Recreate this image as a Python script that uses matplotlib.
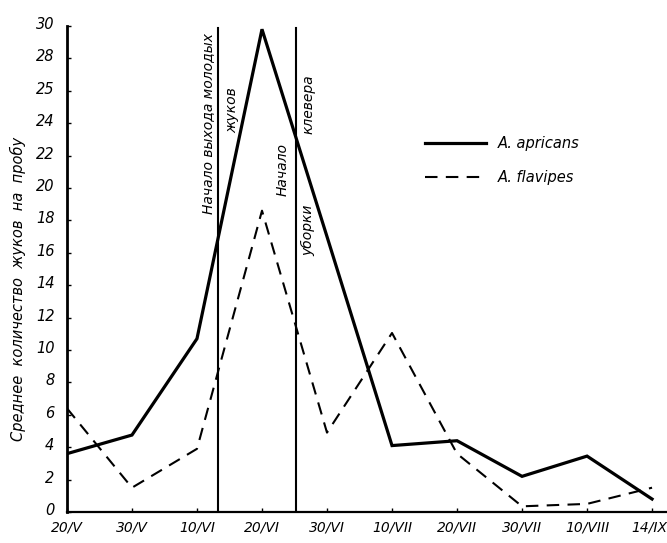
import matplotlib
matplotlib.use("Agg")
import matplotlib.pyplot as plt
from matplotlib.transforms import ScaledTranslation

# даты отбора проб
dates = ["20/V", "30/V", "10/VI", "20/VI", "30/VI", "10/VII", "20/VII",
         "30/VII", "10/VIII", "14/IX"]
apricans = [3.6, 4.75, 10.7, 29.8, 17.0, 4.1, 4.4, 2.2, 3.45, 0.8]
flavipes = [6.4, 1.5, 3.9, 18.6, 4.9, 11.05, 3.6, 0.35, 0.5, 1.5]

y_ticks = [0, 2, 4, 6, 8, 10, 12, 14, 16, 18, 20, 22, 24, 26, 28, 30]
y_labels = ["0", "2", "4", "6", "8", "10", "12", "14", "16", "18", "20",
            "22", "24", "25", "28", "30"]

# события (положение между датами)
events = [2.32, 3.52]

plt.rcParams["font.family"] = ["DejaVu Sans"]
plt.rcParams["font.style"] = "italic"

fig = plt.figure(figsize=(6.67, 5.43), dpi=100)
ax = fig.add_axes([0.1004, 0.0571, 0.8996, 0.895])

x = range(len(dates))
ax.plot(x, apricans, color="black", lw=2.3, solid_joinstyle="miter",
        label="A. apricans")
ax.plot(x, flavipes, color="black", lw=1.5, dashes=(6, 4),
        label="A. flavipes")

for e in events:
    ax.plot([e, e], [0, 29.9], color="black", lw=1.5)

ax.set_xlim(0, 9.23)
ax.set_ylim(0, 30)
ax.set_xticks(list(x))
ax.set_xticklabels(dates, fontsize=10)
ax.set_yticks(y_ticks)
ax.set_yticklabels(y_labels, fontsize=10.5)
ax.tick_params(direction="in", length=3, width=1, pad=9)
ax.tick_params(axis="x", pad=6)
# подписи оси Y чуть выше делений, как в оригинале
for lab in ax.get_yticklabels():
    lab.set_transform(lab.get_transform() +
                      ScaledTranslation(0, 3 / 100, fig.dpi_scale_trans))
# последняя подпись прижата к краю
ax.get_xticklabels()[-1].set_horizontalalignment("right")
ax.get_xticklabels()[-1].set_transform(
    ax.get_xticklabels()[-1].get_transform() +
    ScaledTranslation(15 / 100, 0, fig.dpi_scale_trans))

for s in ["top", "right"]:
    ax.spines[s].set_visible(False)
ax.spines["left"].set_linewidth(2)
ax.spines["bottom"].set_linewidth(1.6)

fig.text(0.027, 0.467, "Среднее  количество  жуков  на  пробу", rotation=90,
         ha="center", va="center", fontsize=10.5)

def tx(px, py, s):
    fig.text(px / 667, 1 - py / 543, s, rotation=90, ha="center",
             va="center", fontsize=10)

tx(208, 123, "Начало выхода молодых")
tx(232, 110, "жуков")
tx(283, 170, "Начало")
tx(308, 230, "уборки")
tx(308, 104, "клевера")

leg = ax.legend(loc="upper left", bbox_to_anchor=(0.575, 0.80), frameon=False,
                fontsize=10.5, handlelength=4.2, handletextpad=0.8,
                labelspacing=1.3)

fig.savefig("out.png", dpi=100)
